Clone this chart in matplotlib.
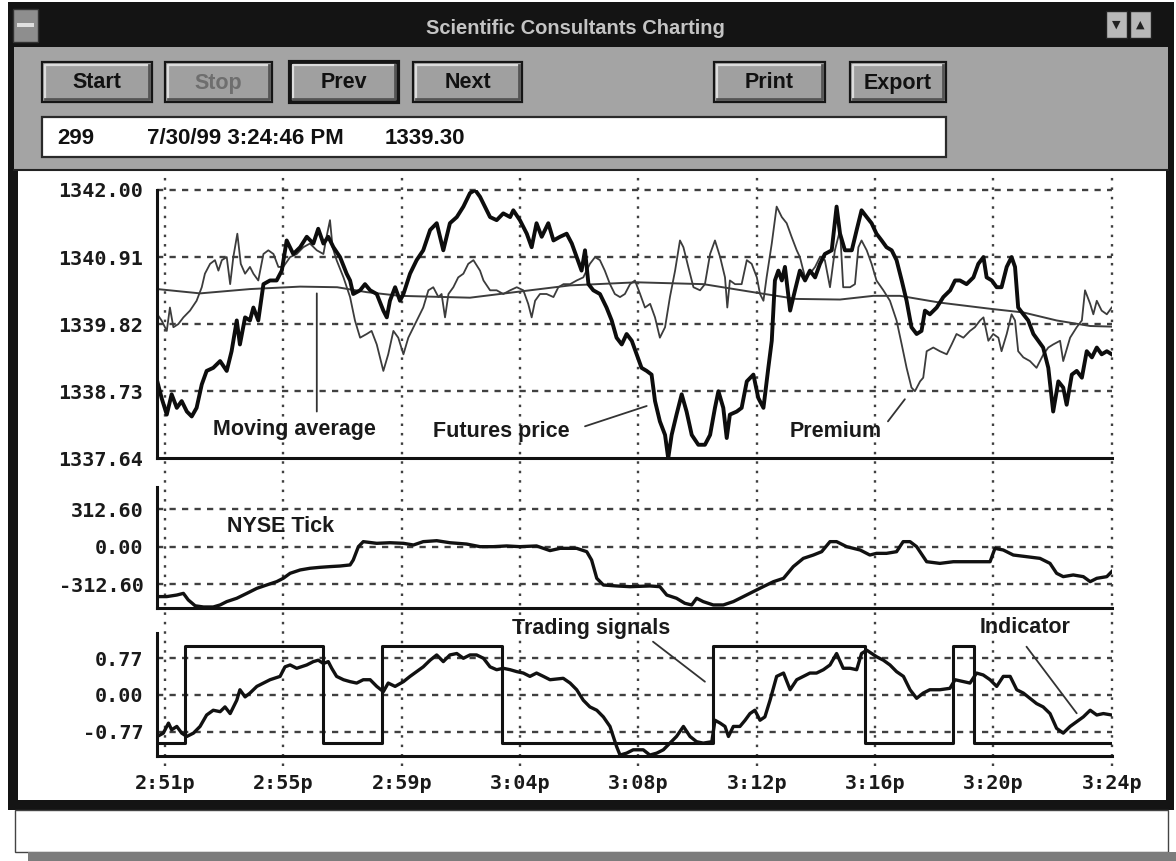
import matplotlib
matplotlib.use("Agg")
import matplotlib.pyplot as plt
from matplotlib.patches import Rectangle

plt.rcParams['lines.scale_dashes'] = False

# time axis: minutes after 2:51p
tick_pos = [0, 4.125, 8.25, 12.375, 16.5, 20.625, 24.75, 28.875, 33.0]
tick_labels = ['2:51p', '2:55p', '2:59p', '3:04p', '3:08p', '3:12p', '3:16p', '3:20p', '3:24p']

# top panel
y1_ticks = [1342.00, 1340.91, 1339.82, 1338.73, 1337.64]
y1_labels = ['1342.00', '1340.91', '1339.82', '1338.73', '1337.64']

fut_t = [-0.27, -0.12, 0.06, 0.23, 0.41, 0.58, 0.76, 0.93, 1.10, 1.28,
         1.45, 1.68, 1.92, 2.15, 2.32, 2.50, 2.61, 2.79, 2.96, 3.08,
         3.25, 3.43, 3.66, 3.89, 4.07, 4.24, 4.47, 4.71, 4.94, 5.17,
         5.34, 5.52, 5.69, 5.87, 6.10, 6.33, 6.45, 6.56, 6.80, 6.97,
         7.15, 7.38, 7.61, 7.73, 7.84, 8.02, 8.19, 8.31, 8.54, 8.77,
         9.00, 9.24, 9.47, 9.70, 9.93, 10.17, 10.40, 10.63, 10.81, 10.98,
         11.33, 11.56, 11.79, 12.03, 12.14, 12.37, 12.61, 12.78, 12.95, 13.13,
         13.36, 13.54, 13.77, 14.00, 14.18, 14.35, 14.52, 14.64, 14.76, 14.93,
         15.16, 15.39, 15.57, 15.74, 15.92, 16.09, 16.27, 16.44, 16.61, 16.79,
         16.96, 17.08, 17.25, 17.43, 17.54, 17.66, 17.83, 18.01, 18.18, 18.36,
         18.59, 18.82, 19.00, 19.17, 19.29, 19.46, 19.58, 19.69, 19.93, 20.10,
         20.28, 20.51, 20.68, 20.86, 21.03, 21.15, 21.26, 21.38, 21.50, 21.61,
         21.79, 21.96, 22.13,
         22.31, 22.48, 22.66, 22.83, 23.00, 23.24, 23.41, 23.53, 23.70, 23.94,
         24.11, 24.28, 24.46, 24.63, 24.80, 24.98, 25.15, 25.33, 25.50, 25.68,
         25.85, 26.02, 26.20, 26.37, 26.49, 26.66, 26.90, 27.13, 27.37, 27.54,
         27.71, 27.94, 28.18, 28.35, 28.53, 28.64, 28.82, 28.99, 29.16, 29.34,
         29.51, 29.63, 29.74, 29.92, 30.09, 30.27, 30.44, 30.61, 30.79, 30.96,
         31.14, 31.31, 31.43, 31.61, 31.78, 31.96, 32.13, 32.31, 32.48, 32.65,
         32.83, 33.00]
fut_v = [1338.89, 1338.62, 1338.35, 1338.68, 1338.46, 1338.57, 1338.40, 1338.32, 1338.46, 1338.84,
         1339.06, 1339.11, 1339.22, 1339.06, 1339.38, 1339.88, 1339.49, 1339.93, 1339.88, 1340.09,
         1339.88, 1340.47, 1340.53, 1340.53, 1340.69, 1341.18, 1340.96, 1341.07, 1341.24, 1341.13,
         1341.37, 1341.13, 1341.24, 1341.07, 1340.91, 1340.64, 1340.53, 1340.31, 1340.37, 1340.47,
         1340.37, 1340.31, 1340.04, 1339.93, 1340.20, 1340.42, 1340.20, 1340.31, 1340.64, 1340.86,
         1341.02, 1341.35, 1341.46, 1341.02, 1341.46, 1341.56, 1341.73, 1341.95, 1342.00, 1341.89,
         1341.56, 1341.51, 1341.62, 1341.56, 1341.67, 1341.51, 1341.29, 1341.07, 1341.46, 1341.24,
         1341.46, 1341.18, 1341.24, 1341.29, 1341.13, 1340.91, 1340.69, 1341.02, 1340.47, 1340.37,
         1340.31, 1340.09, 1339.88, 1339.60, 1339.49, 1339.66, 1339.55, 1339.33, 1339.11, 1339.06,
         1339.00, 1338.57, 1338.24, 1338.02, 1337.64, 1338.02, 1338.35, 1338.68, 1338.40, 1338.02,
         1337.86, 1337.86, 1338.02, 1338.46, 1338.73, 1338.46, 1337.97, 1338.35, 1338.40, 1338.46,
         1338.89, 1339.00, 1338.62, 1338.46, 1339.11, 1339.55, 1340.53, 1340.69, 1340.53, 1340.75,
         1340.04, 1340.37, 1340.69,
         1340.53, 1340.69, 1340.58, 1340.80, 1340.96, 1341.02, 1341.73, 1341.29, 1341.02, 1341.02,
         1341.35, 1341.67, 1341.56, 1341.46, 1341.29, 1341.18, 1341.07, 1341.02, 1340.86, 1340.53,
         1340.20, 1339.77, 1339.66, 1339.71, 1340.04, 1339.98, 1340.09, 1340.26, 1340.37, 1340.53,
         1340.53, 1340.47, 1340.58, 1340.80, 1340.91, 1340.58, 1340.53, 1340.42, 1340.42, 1340.75,
         1340.91, 1340.75, 1340.09, 1339.98, 1339.88, 1339.66, 1339.55, 1339.44, 1339.11, 1338.40,
         1338.89, 1338.79, 1338.51, 1339.00, 1339.06, 1338.95, 1339.38, 1339.28, 1339.44, 1339.33,
         1339.38, 1339.33]

prem_t = [-0.27, -0.12, 0.06, 0.17, 0.29, 0.46, 0.64, 0.87, 1.10, 1.28,
          1.39, 1.57, 1.74, 1.86, 1.98, 2.15, 2.27, 2.38, 2.52, 2.64,
          2.79, 2.96, 3.08, 3.25, 3.43, 3.60, 3.78, 3.95, 4.12, 4.36,
          4.59, 4.82, 5.05, 5.29, 5.52, 5.63, 5.75, 5.84, 5.98, 6.22,
          6.45, 6.62, 6.80, 7.03, 7.20, 7.38, 7.61, 7.78, 7.96, 8.13,
          8.31, 8.48, 8.66, 8.83, 9.00, 9.18, 9.35, 9.53, 9.64, 9.76,
          9.88, 10.05, 10.22, 10.40, 10.57, 10.75, 10.98,
          11.10, 11.33, 11.56, 11.79, 12.03, 12.26, 12.49, 12.66, 12.78, 12.90,
          13.07, 13.30, 13.54, 13.71, 13.89, 14.12, 14.35, 14.58, 14.81, 14.99,
          15.16, 15.33, 15.51, 15.68, 15.86, 16.03, 16.21, 16.38, 16.56, 16.73,
          16.91, 17.08, 17.25, 17.43, 17.60, 17.78, 17.95, 18.07, 18.24, 18.42,
          18.65, 18.82, 19.00, 19.17, 19.35, 19.52, 19.60, 19.69, 19.87, 20.10,
          20.28, 20.45, 20.63, 20.74, 20.86, 20.97, 21.15, 21.32, 21.50, 21.67,
          21.84, 22.02, 22.13,
          22.31, 22.48, 22.66, 22.83, 23.00, 23.18, 23.35, 23.53, 23.64, 23.88,
          24.05, 24.17, 24.28, 24.46, 24.63, 24.80, 25.04, 25.27, 25.50, 25.68,
          25.85, 26.02, 26.14, 26.32, 26.43, 26.55, 26.78, 27.01, 27.25, 27.42,
          27.59, 27.83, 28.06, 28.23, 28.41, 28.53, 28.70, 28.87, 29.05, 29.16,
          29.34, 29.51, 29.63, 29.74, 29.92, 30.15, 30.38, 30.62, 30.79, 30.96,
          31.20, 31.31, 31.55, 31.78, 31.96, 32.07, 32.25, 32.36, 32.48, 32.65,
          32.83, 33.00]
prem_v = [1339.98, 1339.88, 1339.71, 1340.09, 1339.77, 1339.82, 1339.93, 1340.04, 1340.20, 1340.42,
          1340.64, 1340.80, 1340.86, 1340.69, 1340.86, 1340.91, 1340.47, 1340.91, 1341.29, 1340.80,
          1340.64, 1340.75, 1340.64, 1340.53, 1340.96, 1341.02, 1340.96, 1340.75, 1340.75, 1340.91,
          1340.96, 1341.07, 1341.13, 1341.02, 1340.96, 1341.24, 1341.51, 1341.07, 1340.86, 1340.58,
          1340.26, 1339.88, 1339.60, 1339.66, 1339.71, 1339.49, 1339.06, 1339.33, 1339.71, 1339.60,
          1339.33, 1339.60, 1339.77, 1339.93, 1340.09, 1340.37, 1340.42, 1340.26, 1340.31, 1339.93,
          1340.31, 1340.42, 1340.58, 1340.64, 1340.80, 1340.86, 1340.69,
          1340.53, 1340.37, 1340.37, 1340.31, 1340.37, 1340.42, 1340.37, 1340.15, 1339.93, 1340.20,
          1340.31, 1340.31, 1340.26, 1340.42, 1340.47, 1340.47, 1340.53, 1340.58, 1340.80, 1340.91,
          1340.86, 1340.69, 1340.47, 1340.31, 1340.26, 1340.31, 1340.47, 1340.53, 1340.31, 1340.09,
          1340.15, 1339.93, 1339.60, 1339.77, 1340.26, 1340.69, 1341.18, 1341.07, 1340.75, 1340.42,
          1340.37, 1340.47, 1340.96, 1341.18, 1340.91, 1340.58, 1340.09, 1340.53, 1340.47, 1340.47,
          1340.86, 1340.80, 1340.58, 1340.31, 1340.20, 1340.58, 1341.13, 1341.73, 1341.56, 1341.46,
          1341.24, 1341.02, 1340.91,
          1340.58, 1340.64, 1340.75, 1340.91, 1340.86, 1340.42, 1341.02, 1341.35, 1340.42, 1340.42,
          1340.47, 1341.07, 1341.18, 1341.02, 1340.80, 1340.53, 1340.37, 1340.20, 1339.88, 1339.49,
          1339.11, 1338.79, 1338.73, 1338.89, 1338.95, 1339.38, 1339.44, 1339.38, 1339.33, 1339.49,
          1339.66, 1339.60, 1339.71, 1339.77, 1339.88, 1339.93, 1339.55, 1339.66, 1339.60, 1339.38,
          1339.66, 1339.98, 1339.88, 1339.38, 1339.28, 1339.22, 1339.11, 1339.33, 1339.44, 1339.49,
          1339.55, 1339.22, 1339.60, 1339.77, 1339.88, 1340.37, 1340.15, 1339.98, 1340.20, 1340.04,
          1339.98, 1340.09]

ma_t = [-0.27, 1.22, 2.96, 4.71, 6.00, 7.03, 8.19, 10.63, 12.37, 14.12, 16.44, 18.77,
        20.63, 22.00, 23.53, 24.69, 25.62, 27.01, 28.76, 29.92, 31.08, 32.25, 33.00]
ma_v = [1340.39, 1340.32, 1340.39, 1340.43, 1340.42, 1340.34, 1340.28, 1340.25, 1340.35, 1340.45,
        1340.50, 1340.47, 1340.33, 1340.23, 1340.22, 1340.28, 1340.28, 1340.17, 1340.07, 1340.01,
        1339.88, 1339.79, 1339.78]

# middle panel
y2_ticks = [312.6, 0.0, -312.6]
y2_labels = ['312.60', '0.00', '-312.60']
tick_t = [-0.27, 0.06, 0.41, 0.64, 0.81, 1.05, 1.34, 1.68, 1.92, 2.15,
          2.50, 2.85, 3.20, 3.54, 3.89, 4.12, 4.36, 4.71, 5.05, 5.40,
          5.75, 6.10, 6.45, 6.56, 6.74, 6.91, 7.38, 7.84, 8.31, 8.66,
          9.00, 9.47, 9.93, 10.51, 10.98, 11.44, 11.91, 12.37, 12.95, 13.42,
          13.77, 14.35, 14.70, 14.87, 15.05, 15.28, 15.74, 16.21,
          16.90, 17.25, 17.49, 17.83, 18.12, 18.36, 18.53, 18.76, 19.11, 19.46,
          19.81, 20.16, 20.50, 20.85, 21.21, 21.56, 21.90, 22.25, 22.60, 22.89,
          23.18, 23.41, 23.76, 24.23, 24.57, 24.80, 25.15, 25.50, 25.73, 25.97,
          26.20, 26.55, 27.01, 27.48, 27.94, 28.41, 28.76, 28.93, 29.22, 29.57,
          30.04, 30.50, 30.85, 31.08, 31.31, 31.66, 32.01, 32.25, 32.48, 32.83,
          33.00]
tick_v = [-418, -418, -405, -391, -446, -495, -505, -505, -488, -460,
          -432, -391, -349, -321, -293, -265, -223, -195, -181, -173,
          -167, -162, -153, -112, 0, 42, 28, 33, 28, 14,
          42, 50, 33, 22, 0, 0, 6, 0, 6, -33,
          -14, -14, -42, -112, -265, -321, -329, -335,
          -329, -335, -405, -432, -474, -488, -432, -460, -488, -488,
          -460, -418, -377, -335, -293, -265, -167, -98, -70, -42,
          42, 42, 0, -28, -70, -56, -56, -42, 42, 42,
          0, -126, -140, -126, -126, -126, -126, -14, -28, -70,
          -84, -98, -140, -223, -251, -237, -251, -293, -265, -251,
          -209]

# bottom panel
y3_ticks = [0.77, 0.0, -0.77]
y3_labels = ['0.77', '0.00', '-0.77']
sig_t = [-0.27, 0.70, 5.52, 7.55, 11.73, 19.09, 24.40, 27.48, 28.20, 33.00]
sig_v = [-1.01, 1.03, -1.01, 1.03, -1.01, 1.03, -1.01, 1.03, -1.01, -1.01]
ind_t = [-0.27, -0.06, 0.12, 0.23, 0.41, 0.58, 0.76, 0.99, 1.22, 1.45,
         1.68, 1.92, 2.09, 2.27, 2.50, 2.61, 2.79, 2.96, 3.20, 3.43,
         3.66, 4.01, 4.18, 4.36, 4.59, 4.94, 5.17, 5.34, 5.52, 5.69,
         5.81, 5.98, 6.22, 6.45, 6.68, 6.91, 7.15, 7.38, 7.61, 7.78,
         8.02, 8.31, 8.54, 8.77, 9.00, 9.24, 9.47, 9.70, 9.93, 10.17,
         10.40, 10.63, 10.86, 11.10, 11.33, 11.56, 11.79, 12.03, 12.26, 12.49,
         12.72, 12.95, 13.19, 13.42, 13.88, 14.12, 14.35, 14.58, 14.81, 15.05,
         15.28, 15.51, 15.74, 15.86, 16.09, 16.32,
         16.67, 16.90, 17.14, 17.37, 17.60, 17.83, 18.07, 18.30, 18.53, 18.76,
         19.06, 19.17, 19.35, 19.52, 19.64, 19.81, 20.04, 20.22, 20.39, 20.56,
         20.74, 20.91, 21.09, 21.32, 21.56, 21.79, 22.02, 22.25, 22.48, 22.71,
         22.95, 23.18, 23.41, 23.64, 23.88, 24.11, 24.28, 24.46, 24.81, 25.04,
         25.27, 25.50, 25.74, 25.97, 26.20, 26.43, 26.66, 27.01, 27.36, 27.54,
         27.83, 28.06, 28.29, 28.52, 28.76, 28.99, 29.22, 29.46, 29.69, 29.92,
         30.15, 30.38, 30.61, 30.85, 31.08, 31.31, 31.55, 31.78, 32.01, 32.25,
         32.48, 32.71, 33.00]
ind_v = [-0.87, -0.80, -0.59, -0.73, -0.66, -0.80, -0.87, -0.80, -0.66, -0.42,
         -0.32, -0.35, -0.25, -0.39, -0.11, 0.11, -0.04, 0.04, 0.18, 0.25,
         0.32, 0.39, 0.59, 0.63, 0.56, 0.63, 0.70, 0.73, 0.66, 0.70,
         0.56, 0.39, 0.32, 0.28, 0.25, 0.32, 0.32, 0.18, 0.07, 0.25,
         0.18, 0.28, 0.39, 0.49, 0.59, 0.73, 0.84, 0.70, 0.84, 0.87,
         0.77, 0.84, 0.84, 0.77, 0.59, 0.53, 0.56, 0.53, 0.49, 0.46,
         0.39, 0.46, 0.39, 0.32, 0.35, 0.25, 0.11, -0.11, -0.25, -0.32,
         -0.46, -0.66, -1.08, -1.26, -1.22, -1.15,
         -1.15, -1.26, -1.22, -1.15, -1.01, -0.87, -0.66, -0.87, -0.98, -1.01,
         -0.98, -0.53, -0.59, -0.66, -0.87, -0.66, -0.66, -0.53, -0.39, -0.32,
         -0.53, -0.46, -0.11, 0.39, 0.46, 0.11, 0.32, 0.39, 0.46, 0.46,
         0.53, 0.63, 0.87, 0.56, 0.56, 0.53, 0.87, 0.94, 0.80, 0.73,
         0.63, 0.49, 0.39, 0.11, -0.07, 0.04, 0.11, 0.11, 0.14, 0.32,
         0.28, 0.25, 0.46, 0.42, 0.32, 0.18, 0.39, 0.39, 0.11, 0.04,
         -0.07, -0.18, -0.25, -0.39, -0.70, -0.80, -0.66, -0.56, -0.46, -0.32,
         -0.42, -0.39, -0.42]

W, H = 1176, 861
fig = plt.figure(figsize=(W / 100, H / 100), dpi=100)
fig.patch.set_facecolor('white')

def box(x0, y0, x1, y1):
    # pixel box (top-left origin) -> figure fraction rect
    return [x0 / W, 1 - y1 / H, (x1 - x0) / W, (y1 - y0) / H]

# ---- window chrome ----
bg = fig.add_axes([0, 0, 1, 1])
bg.set_xlim(0, W)
bg.set_ylim(H, 0)
bg.axis('off')

def rect(x0, y0, x1, y1, fc, ec='none', lw=0):
    bg.add_patch(Rectangle((x0, y0), x1 - x0, y1 - y0, facecolor=fc, edgecolor=ec, linewidth=lw))

ui_font = 'Liberation Sans'
rect(8, 2, 1174, 810, '#141414')
rect(14, 47, 1168, 169, '#a4a4a4')
rect(18, 171, 1166, 800, 'white')
bg.plot([14, 1168], [170, 170], color='#222222', lw=1.5)
rect(15, 810, 1168, 852, 'white', ec='#444444', lw=1)
rect(28, 852, 1176, 861, '#7c7c7c')

bg.text(575, 29, 'Scientific Consultants Charting', color='#c4c4c4', fontsize=14.5,
        weight='bold', ha='center', va='center', family=ui_font)
rect(13, 9, 38, 42, '#8e8e8e', ec='#333333', lw=1)
rect(17, 23, 34, 27, '#e0e0e0')
for bx, glyph in [(1106, '\u25bc'), (1130, '\u25b2')]:
    rect(bx, 11, bx + 21, 38, '#b8b8b8', ec='#222222', lw=1)
    bg.text(bx + 10.5, 25, glyph, fontsize=8, ha='center', va='center', color='#222222',
            family='DejaVu Sans')

buttons = [(42, 152, 'Start', '#111111', False), (165, 272, 'Stop', '#6e6e6e', False),
           (290, 398, 'Prev', '#111111', True), (413, 522, 'Next', '#111111', False),
           (714, 825, 'Print', '#111111', False), (850, 946, 'Export', '#111111', False)]
for x0, x1, label, tc, pressed in buttons:
    y0, y1 = 62, 102
    rect(x0, y0, x1, y1, '#a0a0a0', ec='#151515', lw=3 if pressed else 1.6)
    bg.plot([x0 + 3, x0 + 3, x1 - 3], [y1 - 3, y0 + 3, y0 + 3], color='#dcdcdc', lw=1.6)
    bg.plot([x0 + 3, x1 - 3, x1 - 3], [y1 - 3, y1 - 3, y0 + 3], color='#555555', lw=2)
    bg.text((x0 + x1) / 2, 83, label, color=tc, fontsize=15.5, weight='bold',
            ha='center', va='center', family=ui_font)

rect(42, 117, 946, 157, 'white', ec='#2a2a2a', lw=1.6)
for tx, txt in [(57, '299'), (147, '7/30/99 3:24:46 PM'), (385, '1339.30')]:
    bg.text(tx, 138, txt, fontsize=16, weight='bold', ha='left', va='center',
            color='#111111', family=ui_font)

# ---- vertical dotted grid, running through all three panels ----
xlo, xhi = -0.27, 33.0
gx = fig.add_axes(box(157.3, 173, 1111.7, 766))
gx.set_xlim(xlo, xhi)
gx.set_ylim(0, 1)
gx.axis('off')
for t in tick_pos:
    gx.axvline(t, color='#404040', lw=1.7, dashes=(1.8, 5.0), clip_on=False)

tick_font = dict(family='DejaVu Sans Mono', weight='bold', size=14.5)

def panel(y0, y1, ylim, yt, ylab):
    ax = fig.add_axes(box(157.3, y0, 1111.7, y1))
    ax.patch.set_visible(False)
    ax.set_xlim(xlo, xhi)
    ax.set_ylim(*ylim)
    for s in ['top', 'right']:
        ax.spines[s].set_visible(False)
    for s in ['left', 'bottom']:
        ax.spines[s].set_linewidth(2.2)
        ax.spines[s].set_color('#111111')
    ax.set_yticks(yt)
    ax.set_yticklabels(ylab, fontdict=tick_font, color='#1a1a1a')
    ax.set_xticks([])
    ax.tick_params(length=0, pad=10)
    for v in yt:
        if v > ylim[0]:
            ax.axhline(v, color='#404040', lw=1.7, dashes=(4.5, 4.5), clip_on=False)
    return ax

ax1 = panel(190, 458.3, (1337.64, 1342.0), y1_ticks, y1_labels)
ax2 = panel(486.7, 608.3, (-516, 502), y2_ticks, y2_labels)
ax3 = panel(633.3, 756, (-1.28, 1.294), y3_ticks, y3_labels)
ax3.set_xticks(tick_pos)
ax3.set_xticklabels(tick_labels, fontdict=tick_font, color='#1a1a1a')
ax3.tick_params(axis='x', pad=13)

ax1.plot(ma_t, ma_v, color='#3c3c3c', lw=1.4)
ax1.plot(prem_t, prem_v, color='#3c3c3c', lw=1.3)
ax1.plot(fut_t, fut_v, color='#0d0d0d', lw=2.8)
ax2.plot(tick_t, tick_v, color='#111111', lw=2.4)
ax3.step(sig_t, sig_v, where='post', color='#111111', lw=2.2)
ax3.plot(ind_t, ind_v, color='#111111', lw=2.4)

lab = dict(fontsize=15.5, weight='bold', color='#1a1a1a', family=ui_font, va='center', ha='left')
lead = dict(arrowstyle='-', color='#333333', lw=1.3, shrinkA=0, shrinkB=0)

ax1.text(1.67, 1338.11, 'Moving average', **lab)
ax1.annotate('', xy=(5.29, 1340.32), xytext=(5.29, 1338.40), arrowprops=lead)
ax1.text(9.34, 1338.08, 'Futures price', **lab)
ax1.annotate('', xy=(16.79, 1338.49), xytext=(14.64, 1338.16), arrowprops=lead)
ax1.text(21.79, 1338.08, 'Premium', **lab)
ax1.annotate('', xy=(25.79, 1338.60), xytext=(25.20, 1338.24), arrowprops=lead)

ax2.text(2.15, 165, 'NYSE Tick', **lab)

ax3.text(12.08, 1.405, 'Trading signals', **lab)
ax3.annotate('', xy=(18.82, 0.279), xytext=(17.01, 1.118), arrowprops=lead, annotation_clip=False)
ax3.text(28.41, 1.416, 'Indicator', **lab)
ax3.annotate('', xy=(31.78, -0.384), xytext=(30.03, 1.013), arrowprops=lead, annotation_clip=False)

fig.savefig('out.png', dpi=100, facecolor='white')
